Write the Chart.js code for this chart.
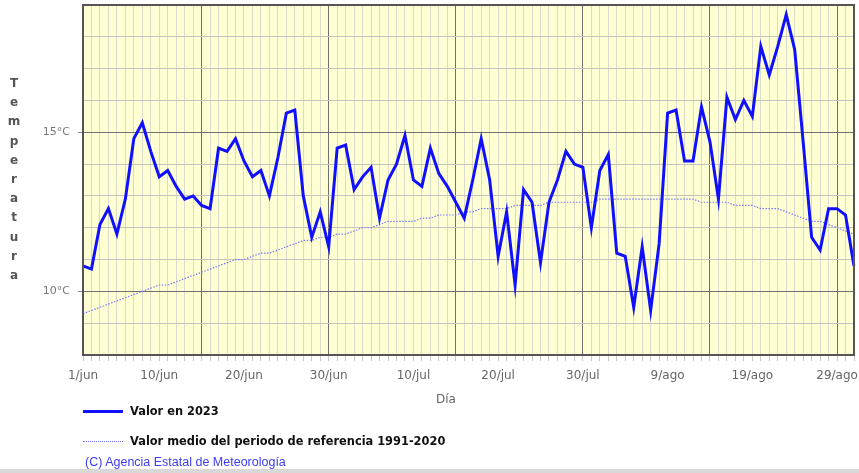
<!DOCTYPE html>
<html>
<head>
<meta charset="utf-8">
<script src="https://cdn.jsdelivr.net/npm/chart.js@4/dist/chart.umd.min.js"></script>
<style>
  body { margin: 0; background: #fff; }
  #wrap { position: relative; width: 859px; height: 473px; overflow: hidden; }
  #wrap canvas { position: absolute; left: 0; top: 0; }
  .ytitle { position: absolute; left: 6px; top: 74px; width: 16px; text-align: center;
    font: bold 12px "DejaVu Sans", sans-serif; color: #555; line-height: 19.2px; }
  .xtitle { position: absolute; left: 436px; top: 392px; font: 12px "DejaVu Sans", sans-serif; color: #666; }
  .leg { position: absolute; left: 83px; font: bold 11.4px "DejaVu Sans", sans-serif; color: #111; }
  .leg span.s { display: inline-block; width: 40px; vertical-align: middle; margin-right: 7px; }
  .copy { position: absolute; left: 85px; top: 455px; font: 12.5px "Liberation Sans", Arial, sans-serif; color: #3c3cf0; }
  .shade { position: absolute; left: 0; top: 469px; width: 859px; height: 4px; background: #d8d8d8; }
</style>
</head>
<body>
<div id="wrap">
  <canvas id="chart"></canvas>
  <div class="ytitle" id="ytitle"></div>
  <div class="xtitle">Día</div>
  <div class="leg" style="top:404px"><span class="s" style="border-top:3px solid #1010ff"></span>Valor en 2023</div>
  <div class="leg" style="top:434px"><span class="s" style="border-top:1px dotted #7070ff"></span>Valor medio del periodo de referencia 1991-2020</div>
  <div class="copy">(C) Agencia Estatal de Meteorología</div>
  <div class="shade"></div>
</div>
<script>
// meses del verano
var months = [["jun", 30], ["jul", 31], ["ago", 31]];
var tickLabels = ["1/jun", "10/jun", "20/jun", "30/jun", "10/jul", "20/jul", "30/jul", "9/ago", "19/ago", "29/ago"];
var majorDays = [14, 29, 44, 59, 74, 89];

// temperatura diaria 2023
var valor2023 = [
  10.8, 10.7, 12.1, 12.6, 11.8, 12.9, 14.8, 15.3, 14.4, 13.6,
  13.8, 13.3, 12.9, 13.0, 12.7, 12.6, 14.5, 14.4, 14.8, 14.1,
  13.6, 13.8, 13.0, 14.2, 15.6, 15.7, 13.0, 11.7, 12.5, 11.4,
  14.5, 14.6, 13.2, 13.6, 13.9, 12.3, 13.5, 14.0, 14.9, 13.5,
  13.3, 14.5, 13.7, 13.3, 12.8, 12.3, 13.5, 14.8, 13.5, 11.1,
  12.5, 10.2, 13.2, 12.8, 10.9, 12.8, 13.5, 14.4, 14.0, 13.9,
  12.0, 13.8, 14.3, 11.2, 11.1, 9.5, 11.4, 9.4, 11.5, 15.6,
  15.7, 14.1, 14.1, 15.8, 14.7, 12.9, 16.1, 15.4, 16.0, 15.5,
  17.7, 16.8, 17.7, 18.7, 17.6, 14.7, 11.7, 11.3, 12.6, 12.6,
  12.4, 10.8
];

// valor medio 1991-2020
var valorMedio = [
  9.3, 9.4, 9.5, 9.6, 9.7, 9.8, 9.9, 10.0, 10.1, 10.2,
  10.2, 10.3, 10.4, 10.5, 10.6, 10.7, 10.8, 10.9, 11.0, 11.0,
  11.1, 11.2, 11.2, 11.3, 11.4, 11.5, 11.6, 11.6, 11.7, 11.7,
  11.8, 11.8, 11.9, 12.0, 12.0, 12.1, 12.2, 12.2, 12.2, 12.2,
  12.3, 12.3, 12.4, 12.4, 12.4, 12.5, 12.5, 12.6, 12.6, 12.6,
  12.6, 12.7, 12.7, 12.7, 12.7, 12.8, 12.8, 12.8, 12.8, 12.8,
  12.8, 12.9, 12.9, 12.9, 12.9, 12.9, 12.9, 12.9, 12.9, 12.9,
  12.9, 12.9, 12.9, 12.8, 12.8, 12.8, 12.8, 12.7, 12.7, 12.7,
  12.6, 12.6, 12.6, 12.5, 12.4, 12.3, 12.2, 12.2, 12.1, 12.0,
  11.9, 11.8
];

var days = [];
for (var m = 0; m < months.length; m++) {
  for (var d = 1; d <= months[m][1]; d++) {
    days.push(d + "/" + months[m][0]);
  }
}

// letras del titulo vertical
var yt = document.getElementById("ytitle");
"Temperatura".split("").forEach(function(c) {
  var el = document.createElement("div");
  el.textContent = c;
  yt.appendChild(el);
});

var frame = {
  id: "frame",
  beforeDraw: function(chart) {
    var a = chart.chartArea, ctx = chart.ctx;
    ctx.save();
    ctx.fillStyle = "#ffffd4";
    ctx.fillRect(a.left, a.top, a.right - a.left, a.bottom - a.top);
    ctx.restore();
  },
  afterDatasetsDraw: function(chart) {
    var a = chart.chartArea, ctx = chart.ctx;
    ctx.save();
    ctx.strokeStyle = "#555";
    ctx.lineWidth = 2;
    ctx.strokeRect(a.left, a.top, a.right - a.left, a.bottom - a.top);
    ctx.restore();
  }
};

var cv = document.getElementById("chart");
cv.width = 859; cv.height = 473;

new Chart(cv, {
  type: "line",
  data: {
    labels: days,
    datasets: [
      {
        label: "Valor en 2023",
        data: valor2023,
        borderColor: "#1010ff",
        borderWidth: 3,
        pointRadius: 0,
        tension: 0
      },
      {
        label: "Valor medio del periodo de referencia 1991-2020",
        data: valorMedio,
        borderColor: "#7878ff",
        borderWidth: 1.2,
        borderDash: [1.5, 1.5],
        pointRadius: 0,
        tension: 0
      }
    ]
  },
  options: {
    responsive: false,
    animation: false,
    layout: { padding: { top: 5, right: 5, left: 0, bottom: 58 } },
    plugins: { legend: { display: false }, tooltip: { enabled: false } },
    scales: {
      x: {
        border: { display: false },
        grid: {
          color: function(c) { return majorDays.indexOf(c.index) >= 0 ? "#707070" : "#dadaca"; },
          tickColor: "#c8c8c8",
          tickLength: 6
        },
        ticks: {
          autoSkip: false,
          maxRotation: 0,
          padding: 8,
          color: "#666",
          font: { family: "DejaVu Sans", size: 12 },
          callback: function(v, i) { return tickLabels.indexOf(days[i]) >= 0 ? days[i] : ""; }
        },
        afterFit: function(s) { s.height = 60; s.paddingLeft = 0; s.paddingRight = 0; }
      },
      y: {
        min: 8,
        max: 19,
        border: { display: false },
        grid: {
          color: function(c) { var v = c.tick.value; return (v === 10 || v === 15) ? "#707070" : "#c4c4bc"; },
          tickColor: function(c) { var v = c.tick.value; return (v === 10 || v === 15) ? "#888" : "rgba(0,0,0,0)"; },
          tickLength: 5
        },
        ticks: {
          stepSize: 1,
          padding: 8,
          color: "#777",
          font: { family: "DejaVu Sans", size: 11 },
          callback: function(v) { return (v === 10 || v === 15) ? v + "°C" : ""; }
        },
        afterFit: function(s) { s.width = 83; s.paddingTop = 0; s.paddingBottom = 0; }
      }
    }
  },
  plugins: [frame]
});
</script>
</body>
</html>
